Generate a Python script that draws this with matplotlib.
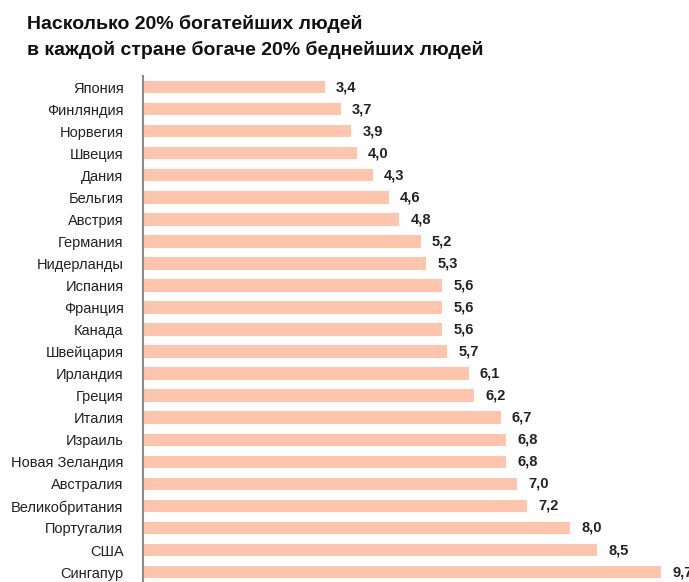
import matplotlib
matplotlib.use("Agg")
import matplotlib.pyplot as plt

countries = ["Япония", "Финляндия", "Норвегия", "Швеция", "Дания", "Бельгия", "Австрия",
             "Германия", "Нидерланды", "Испания", "Франция", "Канада", "Швейцария",
             "Ирландия", "Греция", "Италия", "Израиль", "Новая Зеландия", "Австралия",
             "Великобритания", "Португалия", "США", "Сингапур"]
values = [3.4, 3.7, 3.9, 4.0, 4.3, 4.6, 4.8, 5.2, 5.3, 5.6, 5.6, 5.6, 5.7,
          6.1, 6.2, 6.7, 6.8, 6.8, 7.0, 7.2, 8.0, 8.5, 9.7]
title_lines = ["Насколько 20% богатейших людей", "в каждой стране богаче 20% беднейших людей"]

plt.rcParams['font.family'] = ['Liberation Sans', 'DejaVu Sans']

W, H = 689, 582
fig = plt.figure(figsize=(W / 100, H / 100), dpi=100)
ax = fig.add_axes([143 / W, 0, 1 - 143 / W, (H - 76) / H])

y = list(range(len(countries)))
ax.barh(y, values, height=0.57, color="#FFC5AC", edgecolor="none")
ax.set_xlim(0, (W - 143) / 53.4)
ax.set_ylim(22.45, -0.5)
ax.set_yticks(y)
ax.set_yticklabels(countries, fontsize=10.5, color="#222222")
ax.tick_params(axis='y', length=0, pad=14)
ax.set_xticks([])
for s in ["top", "right", "bottom"]:
    ax.spines[s].set_visible(False)
ax.spines["left"].set_color("#8a8a8a")
ax.spines["left"].set_linewidth(1.5)

for yi, v in zip(y, values):
    ax.annotate(f"{v:.1f}".replace(".", ","), (v, yi), xytext=(8, 0),
                textcoords="offset points", va="center", ha="left",
                fontsize=10.5, fontweight="bold", color="#222222")

fig.text(27 / W, 1 - 29 / H, title_lines[0], fontsize=14, fontweight="bold",
         va="baseline", ha="left", color="#111111")
fig.text(27 / W, 1 - 55 / H, title_lines[1], fontsize=14, fontweight="bold",
         va="baseline", ha="left", color="#111111")

fig.savefig("out.png", dpi=100, facecolor="white")
